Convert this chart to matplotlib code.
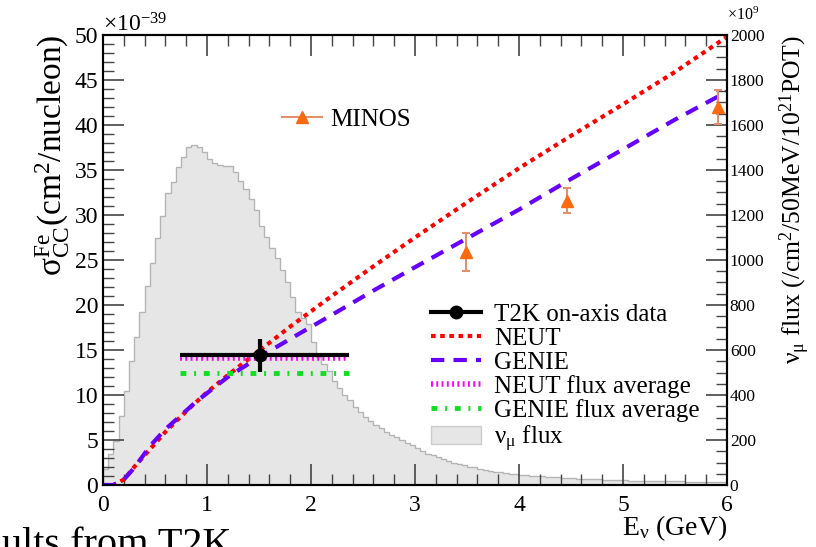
import numpy as np
import matplotlib
matplotlib.use('Agg')
import matplotlib.pyplot as plt
from matplotlib.lines import Line2D
from matplotlib.patches import Patch
from matplotlib.ticker import MultipleLocator

plt.rcParams['font.family'] = ['Liberation Serif', 'DejaVu Serif']
plt.rcParams['mathtext.fontset'] = 'stix'

# nu_mu flux, 50 MeV bins from 0 to 6 GeV (x10^9 /cm2/50MeV/1e21POT)
flux_bin_width = 0.05
flux = [72, 140, 196, 308, 420, 552, 656, 768, 884, 988,
        1096, 1196, 1296, 1348, 1412, 1456, 1500, 1512, 1504, 1480,
        1448, 1432, 1424, 1416, 1416, 1392, 1352, 1316, 1272, 1224,
        1152, 1104, 1052, 1008, 956, 900, 836, 768, 744, 716,
        636, 568, 540, 508, 464, 432, 398, 376, 348, 324,
        304, 284, 268, 252, 236, 224, 212, 200, 188, 176,
        164, 152, 140, 132, 124, 116, 108, 100, 94, 88,
        82, 78, 72, 68, 64, 60, 57, 54, 51, 48,
        46, 44, 42, 40, 38, 36, 35, 34, 32, 31,
        30, 28, 27, 26, 26, 25, 24, 23, 22, 22,
        21, 20, 20, 19, 18, 18, 18, 17, 17, 16,
        16, 16, 15, 15, 14, 14, 14, 14, 13, 13]

# cross section predictions (x1e-39 cm2/nucleon)
neut_e = [0, 0.1, 0.2, 0.3, 0.4, 0.5, 0.6, 0.8, 1.0, 1.2, 1.5, 1.8, 2.2, 2.6, 3.0, 3.5, 4.0, 4.5, 5.0, 5.5, 6.0]
neut_xs = [0, 0, 0.6, 2.0, 3.3, 4.6, 5.9, 8.2, 10.3, 12.2, 14.9, 17.6, 21.0, 24.3, 27.5, 31.4, 35.2, 38.8, 42.3, 45.9, 49.8]
genie_e = [0, 0.1, 0.2, 0.3, 0.45, 0.6, 0.9, 1.2, 1.5, 1.9, 2.2, 2.6, 3.0, 3.5, 4.0, 4.5, 5.0, 5.5, 6.0]
genie_xs = [0, 0, 0.6, 1.9, 4.3, 6.2, 9.3, 12.0, 14.2, 16.9, 18.9, 21.6, 24.2, 27.4, 30.6, 34.0, 37.3, 40.6, 43.7]

# T2K on-axis measurement
t2k_e, t2k_xs = 1.51, 14.4
t2k_elo, t2k_ehi = 0.74, 2.37
t2k_err = 1.8
neut_avg = 14.1
genie_avg = 12.4

# MINOS
minos_e = [3.49, 4.46, 5.91]
minos_xs = [25.9, 31.6, 42.0]
minos_err = [2.1, 1.4, 1.85]

fig = plt.figure(figsize=(8.16, 5.47), dpi=100)
ax = fig.add_axes([103/816, 62/547, 624/816, 450/547])
ax2 = ax.twinx()
ax.set_zorder(ax2.get_zorder() + 1)
ax.patch.set_visible(False)

edges = np.arange(len(flux) + 1) * flux_bin_width
ax2.stairs(flux, edges, fill=True, color='#e6e6e6', zorder=1)
ax2.stairs(flux, edges, color='#b5b5b5', lw=1, zorder=2)

ax.plot(neut_e, neut_xs, color='#ff0000', lw=3, ls=(0, (1.1, 1.1)))
ax.plot(genie_e, genie_xs, color='#6600ff', lw=3, ls=(0, (3.2, 2.2)))
ax.plot([t2k_elo, t2k_ehi], [neut_avg, neut_avg], color='#ff00ff', lw=4, ls=(0, (0.35, 0.6)))
ax.plot([t2k_elo, t2k_ehi], [genie_avg, genie_avg], color='#11dd22', lw=3.5, ls=(0, (1.2, 1.6, 0.4, 1.6)))
ax.errorbar([t2k_e], [t2k_xs], xerr=[[t2k_e - t2k_elo], [t2k_ehi - t2k_e]], yerr=[t2k_err],
            fmt='o', color='black', ms=9, elinewidth=3, capsize=0)
ax.errorbar(minos_e, minos_xs, yerr=minos_err, fmt='^', color='#ff6a10', ms=8,
            ecolor='#e0906a', elinewidth=1.5, capsize=3, capthick=1.5)

ax.set_xlim(0, 6)
ax.set_ylim(0, 50)
ax2.set_ylim(0, 2000)

ax.xaxis.set_major_locator(MultipleLocator(1))
ax.xaxis.set_minor_locator(MultipleLocator(0.2))
ax.yaxis.set_major_locator(MultipleLocator(5))
ax.yaxis.set_minor_locator(MultipleLocator(1))
ax2.yaxis.set_major_locator(MultipleLocator(200))
ax2.yaxis.set_minor_locator(MultipleLocator(50))

ax.tick_params(axis='both', which='both', direction='in', top=True, right=False, color='#444444')
ax.tick_params(which='major', length=15, width=1.2, labelsize=17)
ax.tick_params(which='minor', length=8, width=1)
ax.tick_params(axis='x', pad=7)
ax2.tick_params(axis='y', which='both', direction='in', color='#444444')
ax2.tick_params(which='major', length=15, width=1.2, labelsize=12.5, pad=2)
ax2.tick_params(which='minor', length=8, width=1)
for a in (ax, ax2):
    for s in a.spines.values():
        s.set_linewidth(1.5)

ax.set_ylabel(r'$\mathregular{\sigma^{Fe}_{CC}}$(cm$\mathregular{^2}$/nucleon)', fontsize=24, loc='top', labelpad=2)
ax2.set_ylabel(r'$\mathregular{\nu_{\mu}}$ flux (/cm$\mathregular{^2}$/50MeV/10$\mathregular{^{21}}$POT)',
               fontsize=18.5, loc='top', labelpad=9)
ax.set_xlabel(r'E$\mathregular{_{\nu}}$ (GeV)', fontsize=20, loc='right', labelpad=-2)

fig.text(103/816, 1 - 31/547, r'$\mathregular{\times10^{-39}}$', fontsize=17, va='baseline', ha='left')
fig.text(727/816, 1 - 20/547, r'$\mathregular{\times10^{9}}$', fontsize=11.5, va='baseline', ha='left')

minos_h = Line2D([], [], color='#e0906a', lw=1.5, marker='^', markersize=8,
                 markerfacecolor='#ff6a10', markeredgecolor='#ff6a10')
leg1 = ax.legend([minos_h], ['MINOS'], loc='center left', bbox_to_anchor=(0.25, 0.812),
                 frameon=False, fontsize=18, handlelength=1.6, handletextpad=0.35)
ax.add_artist(leg1)

handles = [Line2D([], [], color='black', lw=3, marker='o', ms=9),
           Line2D([], [], color='#ff0000', lw=3, ls=(0, (1.1, 1.1))),
           Line2D([], [], color='#6600ff', lw=3, ls=(0, (3.2, 2.2))),
           Line2D([], [], color='#ff00ff', lw=4, ls=(0, (0.35, 0.6))),
           Line2D([], [], color='#11dd22', lw=3.5, ls=(0, (1.2, 1.6, 0.4, 1.6))),
           Patch(facecolor='#e6e6e6', edgecolor='#cccccc')]
labels = ['T2K on-axis data', 'NEUT', 'GENIE', 'NEUT flux average', 'GENIE flux average',
          r'$\mathregular{\nu_{\mu}}$ flux']
ax.legend(handles, labels, loc='upper left', bbox_to_anchor=(0.51, 0.425), frameon=False,
          fontsize=18, handlelength=2.0, handletextpad=0.5, labelspacing=0.05, borderaxespad=0)

fig.text(0.002, -0.014, 'ults from T2K', fontsize=29, ha='left', va='baseline')

fig.savefig('out.png', dpi=100)
